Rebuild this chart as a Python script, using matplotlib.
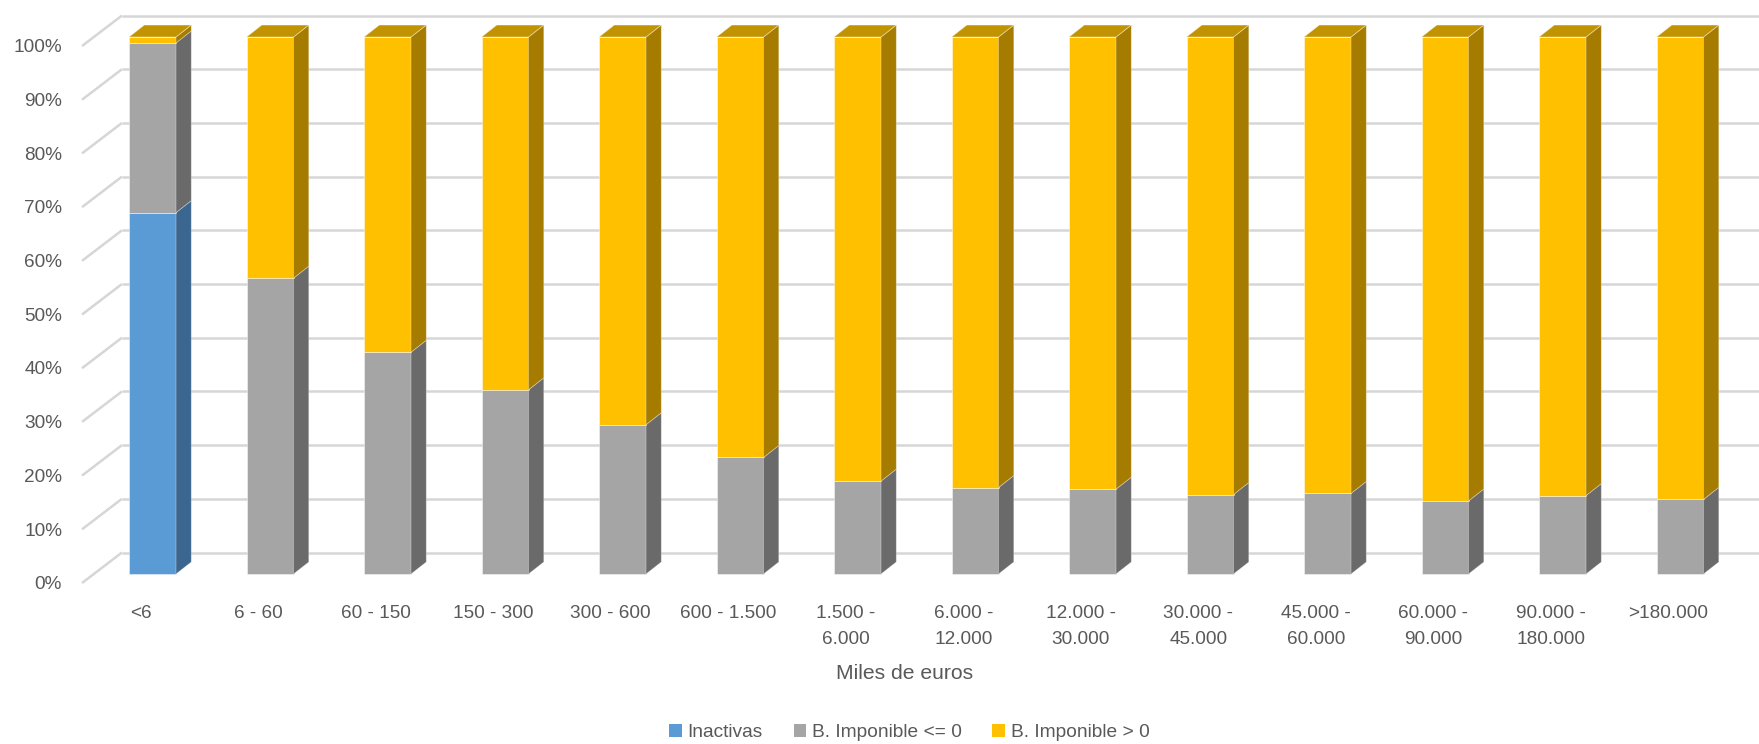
import matplotlib
matplotlib.use('Agg')
import matplotlib.pyplot as plt
from matplotlib.patches import Polygon, Patch

# ---------------- data ----------------
categories = ['<6', '6 - 60', '60 - 150', '150 - 300', '300 - 600', '600 - 1.500',
              '1.500 -\n6.000', '6.000 -\n12.000', '12.000 -\n30.000', '30.000 -\n45.000',
              '45.000 -\n60.000', '60.000 -\n90.000', '90.000 -\n180.000', '>180.000']
series_names = ['Inactivas', 'B. Imponible <= 0', 'B. Imponible > 0']
inactivas = [67.3, 0, 0, 0, 0, 0, 0, 0, 0, 0, 0, 0, 0, 0]
bi_neg = [31.6, 55.1, 41.3, 34.3, 27.8, 21.7, 17.3, 16.1, 15.8, 14.8, 15.0, 13.6, 14.6, 13.9]
bi_pos = [1.1, 44.9, 58.7, 65.7, 72.2, 78.3, 82.7, 83.9, 84.2, 85.2, 85.0, 86.4, 85.4, 86.1]
y_ticks = [0, 10, 20, 30, 40, 50, 60, 70, 80, 90, 100]
x_title = 'Miles de euros'

# ---------------- style ----------------
front_cols = ['#5B9BD5', '#A5A5A5', '#FFC000']
side_cols = ['#3A6690', '#6A6A6A', '#A67C00']
top_cols = ['#44749F', '#7C7C7C', '#C29300']
text_col = '#595959'
grid_col = '#D6D6D6'
FONT = ['Liberation Sans', 'DejaVu Sans']
plt.rcParams['font.family'] = FONT
TICK_FS = 13.7

W, H = 1759, 744
fig = plt.figure(figsize=(W / 100, H / 100), dpi=100)
ax = fig.add_axes([0, 0, 1, 1])
ax.set_xlim(-1.298, 13.672)
ax.set_ylim(-31.66, 106.89)
ax.axis('off')

bw = 0.4          # front width (category units)
ddx, ddy = 0.13, 2.23   # bar depth offsets
wall_dy = 4.0     # back wall offset
wall_x = -0.26
diag_x0, diag_dy0 = -0.6, -1.68

# back wall gridlines + left wall diagonals
for v in y_ticks:
    ax.plot([wall_x, 13.8], [v + wall_dy, v + wall_dy], color=grid_col, lw=1.8,
            zorder=1, solid_capstyle='butt')
    ax.plot([diag_x0, wall_x], [v + diag_dy0, v + wall_dy], color=grid_col, lw=1.8,
            zorder=1, solid_capstyle='butt')
    ax.text(-0.77, v - 2.0, f'{v}%', ha='right', va='center', fontsize=TICK_FS,
            color=text_col)

xs = list(range(len(categories)))
series = [inactivas, bi_neg, bi_pos]
bottoms = [0.0] * len(xs)
for s, vals in enumerate(series):
    ax.bar(xs, vals, width=bw, bottom=bottoms, color=front_cols[s],
           edgecolor=(1, 1, 1, 0.45), linewidth=0.7, zorder=3, label=series_names[s])
    for i, x in enumerate(xs):
        v = vals[i]
        if v <= 0:
            continue
        b = bottoms[i]
        xr = x + bw / 2
        side = Polygon([(xr, b), (xr + ddx, b + ddy), (xr + ddx, b + v + ddy), (xr, b + v)],
                       closed=True, facecolor=side_cols[s], edgecolor=(1, 1, 1, 0.35),
                       linewidth=0.6, zorder=3)
        ax.add_patch(side)
    bottoms = [bottoms[i] + vals[i] for i in range(len(xs))]

# top faces (topmost segment is the last series)
for i, x in enumerate(xs):
    t = bottoms[i]
    xl, xr = x - bw / 2, x + bw / 2
    top = Polygon([(xl, t), (xl + ddx, t + ddy), (xr + ddx, t + ddy), (xr, t)],
                  closed=True, facecolor=top_cols[2], edgecolor=(1, 1, 1, 0.45),
                  linewidth=0.6, zorder=4)
    ax.add_patch(top)

# category labels
for i, lab in enumerate(categories):
    ax.text(xs[i] - 0.1, -5.8, lab, ha='center', va='top', fontsize=TICK_FS,
            color=text_col, linespacing=1.7)

ax.text(6.40, -18.6, x_title, ha='center', va='center', fontsize=15.2, color=text_col)

handles = [Patch(facecolor=front_cols[k], edgecolor='none') for k in range(3)]
leg = fig.legend(handles, series_names, loc='center', bbox_to_anchor=(0.517, 0.0155),
                 ncol=3, frameon=False, fontsize=13.8, handlelength=0.65,
                 handleheight=0.65, handletextpad=0.3, columnspacing=1.6,
                 borderpad=0.0)
for t in leg.get_texts():
    t.set_color(text_col)

fig.savefig('out.png', dpi=100)
